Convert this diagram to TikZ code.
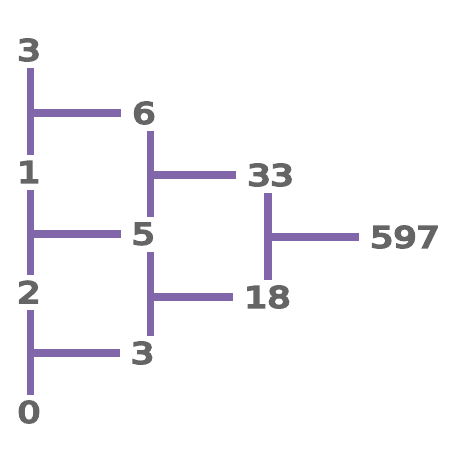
\documentclass[tikz,border=0pt]{standalone}
\usepackage{fontspec}
\newfontfamily\numfont[FakeBold=7]{DejaVu Sans}
\newcommand\wnum[1]{\scalebox{1.25}[1]{#1}}
\definecolor{numgray}{HTML}{656565}
\definecolor{linepurple}{HTML}{8166AA}
\begin{document}
\begin{tikzpicture}[x=1pt,y=-1pt,
  num/.style={inner sep=0pt, font=\numfont\fontsize{29}{29}\selectfont, text=numgray},
  bar/.style={draw=linepurple, line width=7.5pt},
  vseg/.style={bar, shorten <=17.5pt, shorten >=17.5pt},
  branch/.style={bar, shorten >=11pt}]
\useasboundingbox (0,0) rectangle (460,460);
% left column
\node[num] (a3) at (29,50) {\wnum{3}};
\node[num] (a1) at (29,172) {\wnum{1}};
\node[num] (a2) at (29,292) {\wnum{2}};
\node[num] (a0) at (29,412) {\wnum{0}};
% middle column
\node[num] (b6) at (144,113) {\wnum{6}};
\node[num] (b5) at (143.5,234) {\wnum{5}};
\node[num] (b3) at (142.5,353) {\wnum{3}};
% right column
\node[num] (c33) at (270.5,175) {\wnum{33}};
\node[num] (c18) at (267.5,297) {\wnum{18}};
% result
\node[num] (d597) at (405,237) {\wnum{597}};
% vertical line positions
\coordinate (L) at (30.5,0);
\coordinate (M) at (150.5,0);
\coordinate (R) at (268,0);
% vertical segments
\draw[vseg] (a3 -| L) -- (a1 -| L);
\draw[vseg] (a1 -| L) -- (a2 -| L);
\draw[vseg] (a2 -| L) -- (a0 -| L);
\draw[vseg] (b6 -| M) -- (b5 -| M);
\draw[vseg] (b5 -| M) -- (b3 -| M);
\draw[vseg] (c33 -| R) -- (c18 -| R);
% branches
\draw[branch] (b6.west -| L) -- (b6.west);
\draw[branch] (b5.west -| L) -- (b5.west);
\draw[branch] (b3.west -| L) -- (b3.west);
\draw[branch] (c33.west -| M) -- (c33.west);
\draw[branch] (c18.west -| M) -- (c18.west);
\draw[branch] (d597.west -| R) -- (d597.west);
\end{tikzpicture}
\end{document}
